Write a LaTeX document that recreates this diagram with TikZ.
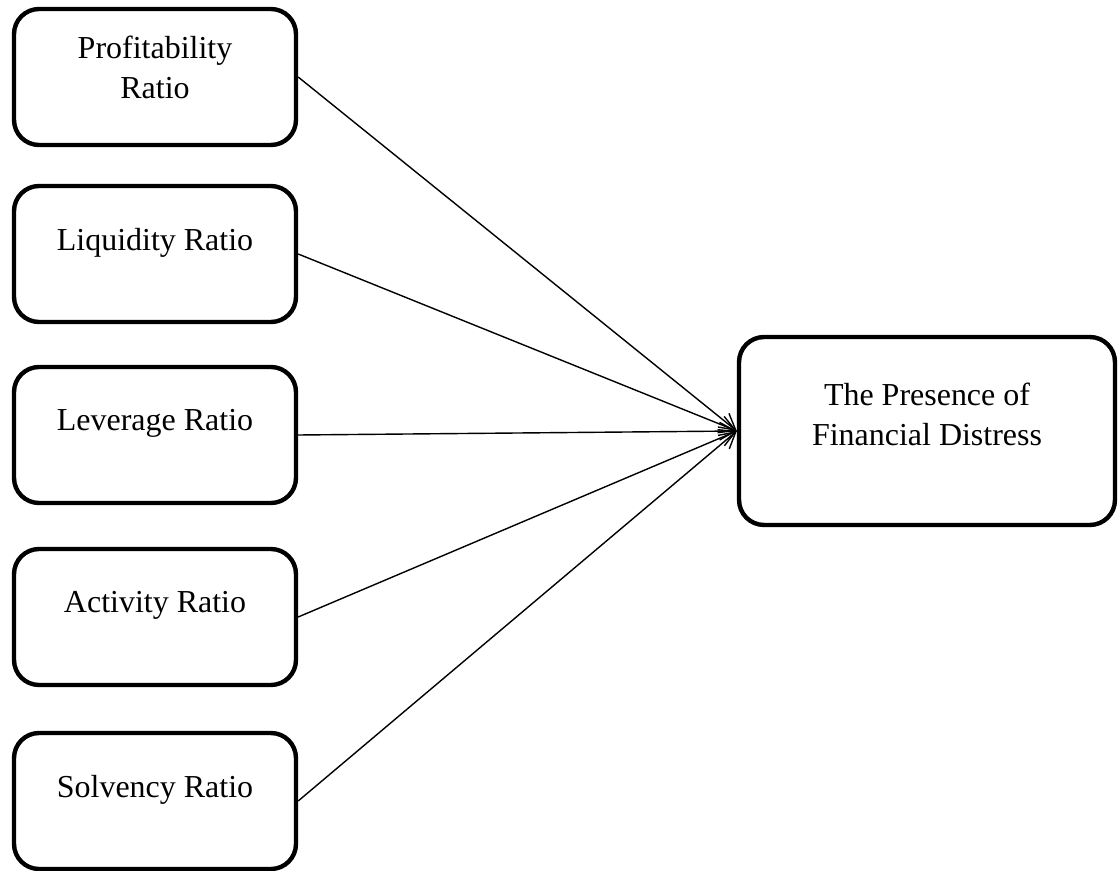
\documentclass[tikz,border=0pt]{standalone}
\usepackage{fontspec}
\setmainfont{Liberation Serif}
\usetikzlibrary{arrows.meta}
\begin{document}
\begin{tikzpicture}[x=0.02cm, y=-0.02cm,
    ratiobox/.style={draw, line width=2.5pt, rounded corners=0.5cm,
        minimum width=5.64cm, minimum height=2.72cm, align=center,
        font=\fontsize{18.2}{23}\selectfont, text depth=17pt},
    link/.style={line width=0.8pt, -{Straight Barb[length=9pt,width=10pt]}}]
    \useasboundingbox (0, 0) rectangle (1119, 871);

        \node[ratiobox, text depth=11pt] (prof) at (155, 77) {Profitability\\Ratio};
        \node[ratiobox] (liq) at (155, 254) {Liquidity Ratio};
        \node[ratiobox] (lev) at (155, 435) {Leverage Ratio};
        \node[ratiobox] (act) at (155, 617) {Activity Ratio};
        \node[ratiobox] (solv) at (155, 801) {Solvency Ratio};

        \node[ratiobox, minimum width=7.52cm, minimum height=3.76cm, text depth=19pt] (distress) at (927, 431)
            {The Presence of\\Financial Distress};

        \draw[link] (prof.east) -- (distress.west);
        \draw[link] (liq.east) -- (distress.west);
        \draw[link] (lev.east) -- (distress.west);
        \draw[link] (act.east) -- (distress.west);
        \draw[link] (solv.east) -- (distress.west);
    \end{tikzpicture}
\end{document}
